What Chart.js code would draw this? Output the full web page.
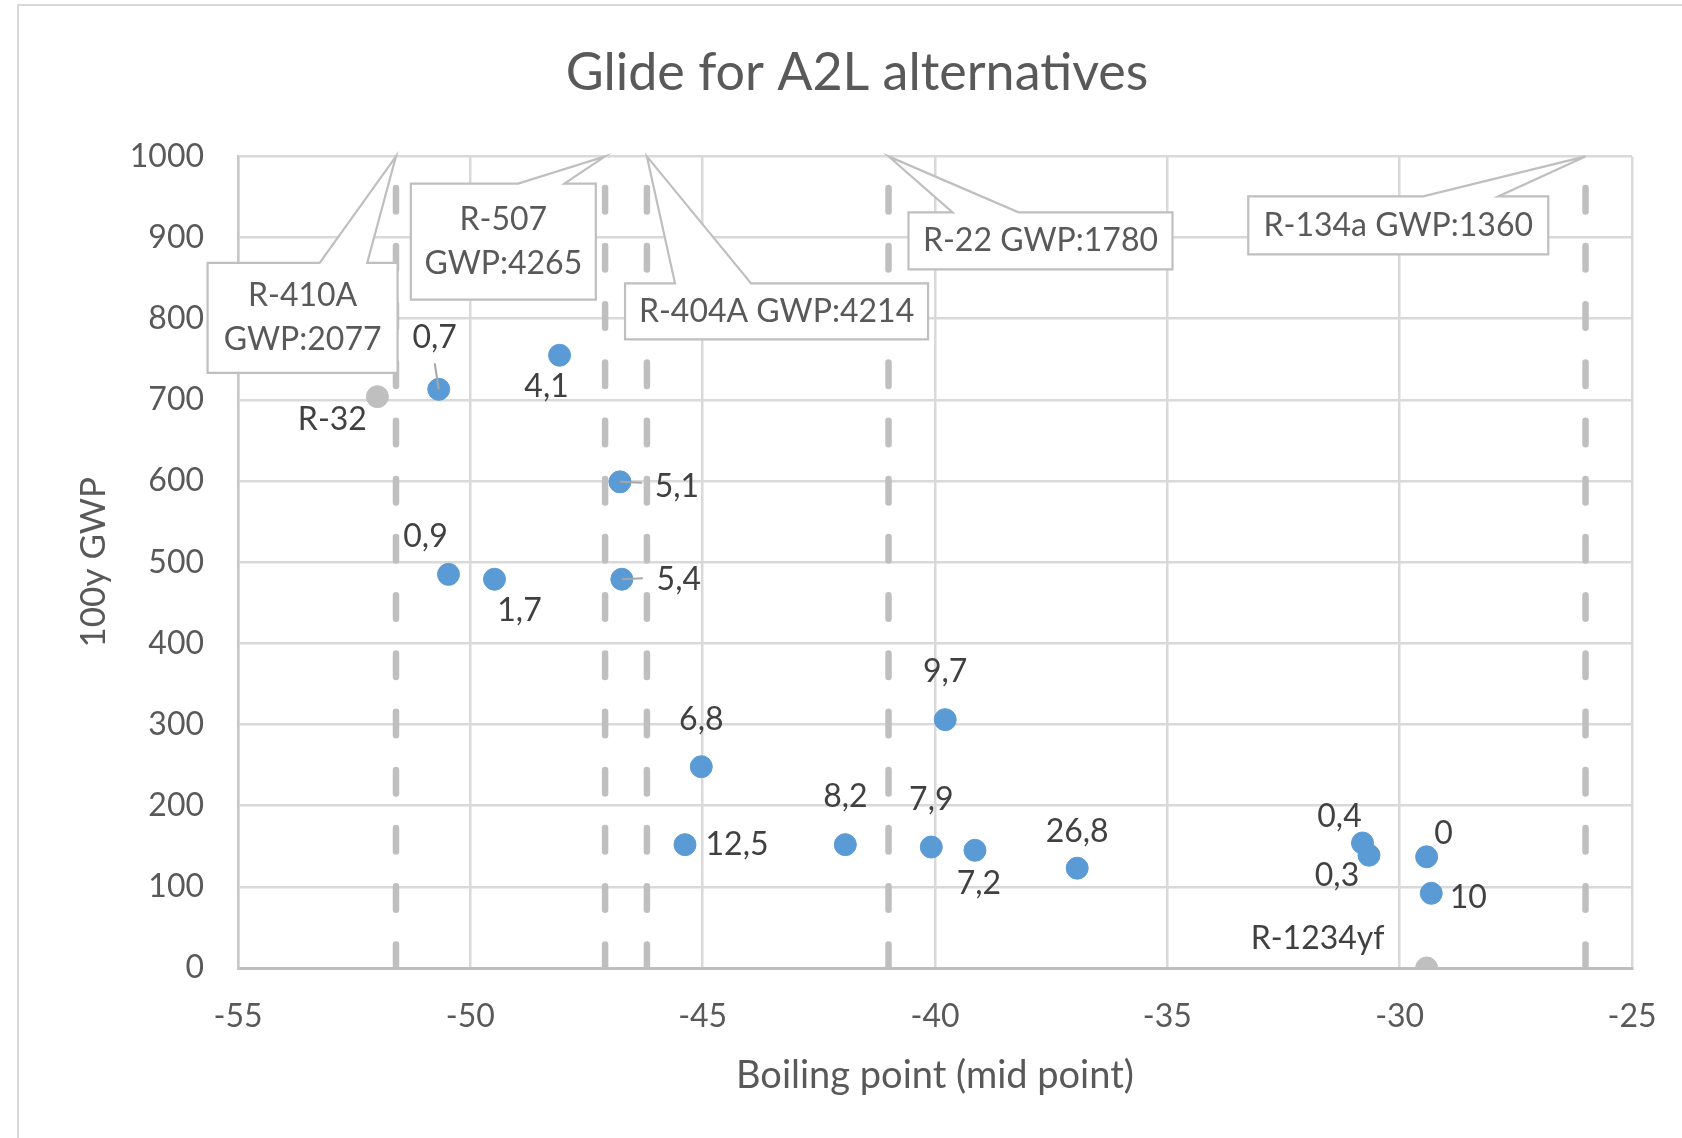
<!DOCTYPE html>
<html>
<head>
<meta charset="utf-8">
<title>Glide for A2L alternatives</title>
<script src="https://cdn.jsdelivr.net/npm/chart.js@4.4.0/dist/chart.umd.min.js"></script>
<style>
  html, body { margin: 0; padding: 0; background: #fff; overflow: hidden; }
  #wrap { position: relative; width: 1682px; height: 1138px; }
  #frame { position: absolute; left: 17px; top: 4px; right: -10px; bottom: -10px;
           border-left: 2px solid #d9d9d9; border-top: 2px solid #d9d9d9; pointer-events: none; }
</style>
</head>
<body>
<div id="wrap">
  <canvas id="chart" width="1682" height="1138"></canvas>
  <div id="frame"></div>
</div>
<script>
// A2L blends (blue), label is the temperature glide
const boilingPoint = [-50.68, -48.08, -46.78, -50.47, -49.48, -46.74, -45.03, -45.38, -41.93,
                      -40.08, -39.14, -39.78, -36.94, -30.80, -30.66, -29.42, -29.32];
const gwp = [713, 755, 599, 485, 479, 479, 248, 152, 152, 149, 145, 306, 123, 154, 139, 137, 92];
const glide = ['0,7', '4,1', '5,1', '0,9', '1,7', '5,4', '6,8', '12,5', '8,2', '7,9', '7,2',
               '9,7', '26,8', '0,4', '0,3', '0', '10'];

// pure A2L refrigerants (gray)
const pureNames = ['R-32', 'R-1234yf'];
const pureBoiling = [-52.0, -29.42];
const pureGwp = [704, 0];

// refrigerants being replaced, drawn as dashed lines
const refNames = ['R-410A', 'R-507', 'R-404A', 'R-22', 'R-134a'];
const refBoiling = [-51.6, -47.1, -46.2, -41.0, -26.0];
const refGwp = [2077, 4265, 4214, 1780, 1360];

const xMin = -55, xMax = -25, xStep = 5;
const yMin = 0, yMax = 1000, yStep = 100;

// label placement (px offsets from the point), leader end points
const glideOffset = [[-4, -52], [-13, 31], [57, 5], [-23, -38], [25, 31], [57, 0], [0, -47], [52, 0],
                     [0, -48], [0, -47], [4, 33], [0, -48], [0, -36], [-23, -26], [-32, 20], [17, -23], [37, 4]];
const leaders = { 0: [-4, -26], 2: [22, 1], 5: [21, -1] };
const pureOffset = [[-45, 23], [-109, -29]];

// callout boxes: centre in axis units, size in px, wedge base as fraction of the width
const callouts = [
  { cx: -53.61, cy: 801, w: 190, h: 110, base: [0.59, 0.84], wrap: true },
  { cx: -49.29, cy: 895, w: 185, h: 116, base: [0.58, 0.83], wrap: true },
  { cx: -43.41, cy: 809, w: 303, h: 56, base: [0.165, 0.416], wrap: false },
  { cx: -37.73, cy: 896, w: 264, h: 57, base: [0.167, 0.417], wrap: false },
  { cx: -30.03, cy: 915, w: 300, h: 58, base: [0.583, 0.833], wrap: false }
];

const FONT = 'Lato';

const calloutPlugin = {
  id: 'callouts',
  afterDatasetsDraw(chart) {
    const ctx = chart.ctx, xs = chart.scales.x, ys = chart.scales.y;
    ctx.save();
    callouts.forEach((c, i) => {
      const x0 = xs.getPixelForValue(c.cx) - c.w / 2;
      const y0 = ys.getPixelForValue(c.cy) - c.h / 2;
      const tipX = xs.getPixelForValue(refBoiling[i]);
      const tipY = ys.getPixelForValue(yMax);
      ctx.beginPath();
      ctx.moveTo(x0, y0);
      ctx.lineTo(x0 + c.base[0] * c.w, y0);
      ctx.lineTo(tipX, tipY);
      ctx.lineTo(x0 + c.base[1] * c.w, y0);
      ctx.lineTo(x0 + c.w, y0);
      ctx.lineTo(x0 + c.w, y0 + c.h);
      ctx.lineTo(x0, y0 + c.h);
      ctx.closePath();
      ctx.fillStyle = '#fff';
      ctx.fill();
      ctx.strokeStyle = '#bfbfbf';
      ctx.lineWidth = 2.2;
      ctx.stroke();

      const lines = c.wrap ? [refNames[i], 'GWP:' + refGwp[i]] : [refNames[i] + ' GWP:' + refGwp[i]];
      ctx.fillStyle = '#595959';
      ctx.font = '32px ' + FONT;
      ctx.textAlign = 'center';
      ctx.textBaseline = 'middle';
      const lh = 44;
      const cy = y0 + c.h / 2 - (lines.length - 1) * lh / 2;
      lines.forEach((t, k) => ctx.fillText(t, x0 + c.w / 2, cy + k * lh));
    });
    ctx.restore();
  }
};

const labelPlugin = {
  id: 'pointLabels',
  afterDatasetsDraw(chart) {
    const ctx = chart.ctx;
    ctx.save();
    const blue = chart.getDatasetMeta(0).data;
    ctx.strokeStyle = '#a6a6a6';
    ctx.lineWidth = 2;
    Object.keys(leaders).forEach(k => {
      const p = blue[k];
      ctx.beginPath();
      ctx.moveTo(p.x, p.y);
      ctx.lineTo(p.x + leaders[k][0], p.y + leaders[k][1]);
      ctx.stroke();
    });
    ctx.font = '32px ' + FONT;
    ctx.fillStyle = '#404040';
    ctx.textAlign = 'center';
    ctx.textBaseline = 'middle';
    blue.forEach((p, i) => ctx.fillText(glide[i], p.x + glideOffset[i][0], p.y + glideOffset[i][1]));
    chart.getDatasetMeta(1).data.forEach((p, i) =>
      ctx.fillText(pureNames[i], p.x + pureOffset[i][0], p.y + pureOffset[i][1]));
    ctx.restore();
  }
};

function draw() {
  const tickFont = { family: FONT, size: 32 };
  new Chart(document.getElementById('chart'), {
    type: 'scatter',
    data: {
      datasets: [
        {
          label: 'A2L blends',
          data: boilingPoint.map((x, i) => ({ x: x, y: gwp[i] })),
          backgroundColor: '#5b9bd5',
          borderColor: '#5b9bd5',
          borderWidth: 1,
          pointRadius: 11
        },
        {
          label: 'Pure A2L',
          data: pureBoiling.map((x, i) => ({ x: x, y: pureGwp[i] })),
          backgroundColor: '#bfbfbf',
          borderColor: '#bfbfbf',
          borderWidth: 1,
          pointRadius: 11
        },
        ...refBoiling.map((x, i) => ({
          label: refNames[i],
          data: [{ x: x, y: yMin }, { x: x, y: yMax }],
          showLine: true,
          borderColor: '#bfbfbf',
          borderWidth: 6.5,
          borderDash: [23.5, 34.7],
          borderCapStyle: 'round',
          pointRadius: 0
        }))
      ]
    },
    options: {
      responsive: false,
      animation: false,
      devicePixelRatio: 1,
      layout: { padding: { left: 73, right: 41, top: 0, bottom: 0 } },
      plugins: {
        legend: { display: false },
        tooltip: { enabled: false },
        title: {
          display: true,
          text: 'Glide for A2L alternatives',
          color: '#595959',
          font: { family: FONT, size: 52, weight: 'normal' },
          padding: { top: 42, bottom: 52 }
        }
      },
      scales: {
        x: {
          type: 'linear',
          min: xMin, max: xMax,
          ticks: { stepSize: xStep, color: '#595959', font: tickFont, padding: 29, callback: v => String(v) },
          grid: { color: '#d9d9d9', lineWidth: 2.5, drawTicks: false },
          border: { color: '#bfbfbf', width: 3 },
          title: { display: true, text: 'Boiling point (mid point)', color: '#595959',
                   font: { family: FONT, size: 38 }, padding: { top: 0, bottom: 39 } },
          afterFit(scale) {
            scale.height = 170;
            scale.paddingRight = 50;
          }
        },
        y: {
          min: yMin, max: yMax,
          ticks: { stepSize: yStep, color: '#595959', font: tickFont, padding: 34, callback: v => String(v) },
          grid: { color: '#d9d9d9', lineWidth: 2.5, drawTicks: false },
          border: { color: '#c8c8c8', width: 2.5 },
          title: { display: true, text: '100y GWP', color: '#595959',
                   font: { family: FONT, size: 35 }, padding: { top: 0, bottom: 0 } },
          afterFit(scale) { scale.width = 165; }
        }
      }
    },
    plugins: [calloutPlugin, labelPlugin]
  });
}

document.fonts.load('32px ' + FONT).then(draw, draw);
</script>
</body>
</html>
